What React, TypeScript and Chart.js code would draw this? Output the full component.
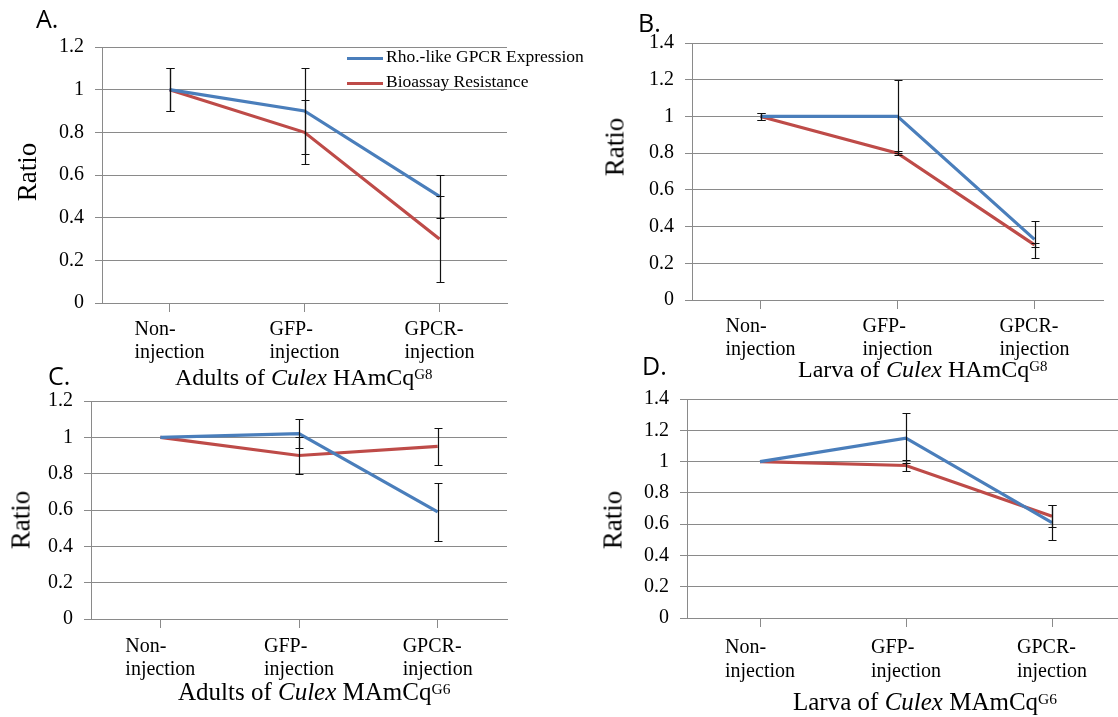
import React, { useEffect, useRef } from "react";
import { Chart, registerables } from "chart.js";

Chart.register(...registerables);

// ---------- data ----------
const categories: string[][] = [
  ["Non-", "injection"],
  ["GFP-", "injection"],
  ["GPCR-", "injection"],
];
const seriesNames = ["Rho.-like GPCR Expression", "Bioassay Resistance"];

// A. Adults of Culex HAmCq G8
const aExpression = [1.0, 0.9, 0.5];
const aExpressionErr = [0.1, 0.2, 0.1];
const aResistance = [1.0, 0.8, 0.3];
const aResistanceErr = [0.1, 0.15, 0.2];

// B. Larva of Culex HAmCq G8
const bExpression = [1.0, 1.0, 0.33];
const bExpressionErr = [0.02, 0.2, 0.1];
const bResistance = [1.0, 0.8, 0.3];
const bResistanceErr = [0.02, 0.01, 0.01];

// C. Adults of Culex MAmCq G6
const cExpression = [1.0, 1.02, 0.59];
const cExpressionErr = [0, 0.08, 0.16];
const cResistance = [1.0, 0.9, 0.95];
const cResistanceErr = [0, 0.1, 0.1];

// D. Larva of Culex MAmCq G6
const dExpression = [1.0, 1.15, 0.61];
const dExpressionErr = [0, 0.16, 0.11];
const dResistance = [1.0, 0.975, 0.65];
const dResistanceErr = [0, 0.035, 0.07];

const yMaxAC = 1.2;
const yMaxBD = 1.4;
const yStep = 0.2;
const yAxisTitle = "Ratio";

// ---------- style ----------
const BLUE = "#4A7EBB";
const RED = "#BE4B48";
const GRID = "#8a8a8a";
const SERIF = '"Liberation Serif", "Times New Roman", serif';
const CANVAS_SERIF = '"Liberation Serif", serif';
const SANS = '"Open Sans", "Noto Sans", sans-serif';

const errorBarPlugin = {
  id: "errorBars",
  afterDatasetsDraw(chart: any, _args: any, opts: any) {
    const errs: number[][] = opts.errors || [];
    const ctx = chart.ctx;
    const ys = chart.scales.y;
    chart.data.datasets.forEach((ds: any, i: number) => {
      const e = errs[i];
      if (!e) return;
      const meta = chart.getDatasetMeta(i);
      meta.data.forEach((pt: any, j: number) => {
        const err = e[j];
        if (!err) return;
        const v = ds.data[j];
        const yt = Math.round(ys.getPixelForValue(v + err)) + 0.5;
        const yb = Math.round(ys.getPixelForValue(v - err)) + 0.5;
        const x = Math.round(pt.x) + 0.5;
        ctx.save();
        ctx.strokeStyle = "#111";
        ctx.lineWidth = 1.2;
        ctx.beginPath();
        ctx.moveTo(x, yt);
        ctx.lineTo(x, yb);
        ctx.moveTo(x - 4, yt);
        ctx.lineTo(x + 4, yt);
        ctx.moveTo(x - 4, yb);
        ctx.lineTo(x + 4, yb);
        ctx.stroke();
        ctx.restore();
      });
    });
  },
};

const xLabelPlugin = {
  id: "xLabels",
  afterDraw(chart: any, _args: any, opts: any) {
    const ctx = chart.ctx;
    const xs = chart.scales.x;
    const labels: string[][] = opts.labels || [];
    ctx.save();
    ctx.font = `20px ${CANVAS_SERIF}`;
    ctx.fillStyle = "#000";
    ctx.textAlign = "left";
    ctx.textBaseline = "alphabetic";
    labels.forEach((lines, i) => {
      const cx = xs.getPixelForValue(i);
      const w = Math.max(...lines.map((l) => ctx.measureText(l).width));
      lines.forEach((l, k) => {
        ctx.fillText(l, cx - w / 2, chart.chartArea.bottom + opts.firstLine + k * opts.lineGap);
      });
    });
    ctx.restore();
  },
};

type PanelProps = {
  canvas: { left: number; top: number; width: number; height: number };
  plot: { left: number; top: number; right: number; bottom: number };
  yMax: number;
  expression: number[];
  expressionErr: number[];
  resistance: number[];
  resistanceErr: number[];
  firstLine: number;
  lineGap: number;
};

function Panel(p: PanelProps) {
  const ref = useRef<HTMLCanvasElement | null>(null);
  useEffect(() => {
    if (!ref.current) return;
    const yW = p.plot.left - p.canvas.left;
    const xH = p.canvas.top + p.canvas.height - p.plot.bottom;
    const chart = new Chart(ref.current, {
      type: "line",
      data: {
        labels: categories.map((c) => c.join(" ")),
        datasets: [
          {
            label: seriesNames[0],
            data: p.expression,
            borderColor: BLUE,
            backgroundColor: BLUE,
            borderWidth: 3.2,
            pointRadius: 0,
            tension: 0,
            fill: false,
          },
          {
            label: seriesNames[1],
            data: p.resistance,
            borderColor: RED,
            backgroundColor: RED,
            borderWidth: 3.2,
            pointRadius: 0,
            tension: 0,
            fill: false,
          },
        ],
      },
      options: {
        animation: false,
        responsive: false,
        events: [],
        layout: {
          padding: {
            left: 0,
            top: p.plot.top - p.canvas.top,
            right: p.canvas.left + p.canvas.width - p.plot.right,
            bottom: 0,
          },
        },
        plugins: {
          legend: { display: false },
          tooltip: { enabled: false },
          title: { display: false },
          errorBars: { errors: [p.expressionErr, p.resistanceErr] },
          xLabels: { labels: categories, firstLine: p.firstLine, lineGap: p.lineGap },
        } as any,
        scales: {
          x: {
            type: "category",
            offset: true,
            grid: {
              offset: false,
              drawOnChartArea: false,
              drawTicks: true,
              tickLength: 9,
              color: GRID,
              lineWidth: 1,
            },
            border: { color: GRID, width: 1 },
            ticks: { callback: () => "", padding: 0, autoSkip: false, maxRotation: 0 },
            afterFit: (s: any) => {
              s.height = xH;
            },
          },
          y: {
            min: 0,
            max: p.yMax,
            grid: { color: GRID, lineWidth: 1, tickLength: 7, drawTicks: true },
            border: { color: GRID, width: 1 },
            ticks: {
              stepSize: yStep,
              padding: 11,
              color: "#000",
              font: { family: CANVAS_SERIF, size: 20 },
              callback: (v: any) => String(+Number(v).toFixed(1)),
            },
            afterFit: (s: any) => {
              s.width = yW;
            },
          },
        },
      },
      plugins: [errorBarPlugin, xLabelPlugin],
    } as any);
    let alive = true;
    const redraw = () => {
      if (alive) chart.update();
    };
    const fontSet = (document as any).fonts;
    if (fontSet) {
      fontSet.load(`20px "Liberation Serif"`).then(redraw, () => {});
      fontSet.ready.then(redraw);
    }
    requestAnimationFrame(() => requestAnimationFrame(redraw));
    const timers = [50, 150, 300, 600, 1000, 2000].map((ms) => setTimeout(redraw, ms));
    return () => {
      alive = false;
      timers.forEach((t) => clearTimeout(t));
      chart.destroy();
    };
  }, []);
  return (
    <canvas
      ref={ref}
      width={p.canvas.width}
      height={p.canvas.height}
      style={{
        position: "absolute",
        left: p.canvas.left,
        top: p.canvas.top,
        width: p.canvas.width,
        height: p.canvas.height,
        display: "block",
      }}
    />
  );
}

function Letter({ text, left, top }: { text: string; left: number; top: number }) {
  return (
    <div
      style={{
        position: "absolute",
        left,
        top,
        fontFamily: SANS,
        fontSize: 25,
        lineHeight: "25px",
        color: "#000",
        whiteSpace: "nowrap",
      }}
    >
      {text}
    </div>
  );
}

function Title({
  pre,
  strain,
  gen,
  left,
  top,
  size,
}: {
  pre: string;
  strain: string;
  gen: string;
  left: number;
  top: number;
  size: number;
}) {
  return (
    <div
      style={{
        position: "absolute",
        left,
        top,
        fontFamily: SERIF,
        fontSize: size,
        lineHeight: `${size}px`,
        color: "#000",
        whiteSpace: "nowrap",
      }}
    >
      {pre} <i>Culex</i> {strain}
      <span style={{ fontSize: "0.62em", position: "relative", top: "-0.42em" }}>{gen}</span>
    </div>
  );
}

function Ratio({ cx, cy }: { cx: number; cy: number }) {
  return (
    <div
      style={{
        position: "absolute",
        left: cx,
        top: cy,
        transform: "translate(-50%, -50%) rotate(-90deg)",
        fontFamily: SERIF,
        fontSize: 27,
        lineHeight: "27px",
        color: "#000",
        whiteSpace: "nowrap",
      }}
    >
      {yAxisTitle}
    </div>
  );
}

function LegendRow({ color, text, left, y }: { color: string; text: string; left: number; y: number }) {
  return (
    <>
      <div
        style={{
          position: "absolute",
          left,
          top: y - 1.5,
          width: 36,
          height: 3,
          background: color,
        }}
      />
      <div
        style={{
          position: "absolute",
          left: left + 39,
          top: y - 10,
          fontFamily: SERIF,
          fontSize: 17.5,
          lineHeight: "17.5px",
          color: "#000",
          whiteSpace: "nowrap",
        }}
      >
        {text}
      </div>
    </>
  );
}

export default function App() {
  return (
    <div
      style={{
        position: "fixed",
        left: 0,
        top: 0,
        width: 1118,
        height: 717,
        overflow: "hidden",
        background: "#fff",
      }}
    >
      <Panel
        canvas={{ left: 0, top: 20, width: 560, height: 350 }}
        plot={{ left: 102, top: 47, right: 507, bottom: 303 }}
        yMax={yMaxAC}
        expression={aExpression}
        expressionErr={aExpressionErr}
        resistance={aResistance}
        resistanceErr={aResistanceErr}
        firstLine={32}
        lineGap={23}
      />
      <Panel
        canvas={{ left: 560, top: 18, width: 558, height: 347 }}
        plot={{ left: 692, top: 43, right: 1103, bottom: 300 }}
        yMax={yMaxBD}
        expression={bExpression}
        expressionErr={bExpressionErr}
        resistance={bResistance}
        resistanceErr={bResistanceErr}
        firstLine={32}
        lineGap={23}
      />
      <Panel
        canvas={{ left: 0, top: 378, width: 560, height: 330 }}
        plot={{ left: 91, top: 395, right: 507, bottom: 619 }}
        yMax={yMaxAC}
        expression={cExpression}
        expressionErr={cExpressionErr}
        resistance={cResistance}
        resistanceErr={cResistanceErr}
        firstLine={33}
        lineGap={23}
      />
      <Panel
        canvas={{ left: 560, top: 376, width: 570, height: 334 }}
        plot={{ left: 687, top: 392, right: 1125, bottom: 618 }}
        yMax={yMaxBD}
        expression={dExpression}
        expressionErr={dExpressionErr}
        resistance={dResistance}
        resistanceErr={dResistanceErr}
        firstLine={35}
        lineGap={24}
      />

      <LegendRow color={BLUE} text={seriesNames[0]} left={347} y={58} />
      <LegendRow color={RED} text={seriesNames[1]} left={347} y={83} />

      <Letter text="A." left={36} top={6} />
      <Letter text="B." left={638} top={10} />
      <Letter text="C." left={48} top={363} />
      <Letter text="D." left={642} top={353} />

      <Title pre="Adults of" strain="HAmCq" gen="G8" left={175} top={365} size={24} />
      <Title pre="Larva of" strain="HAmCq" gen="G8" left={798} top={357} size={24} />
      <Title pre="Adults of" strain="MAmCq" gen="G6" left={178} top={679} size={25} />
      <Title pre="Larva of" strain="MAmCq" gen="G6" left={793} top={689} size={25} />

      <Ratio cx={27} cy={172} />
      <Ratio cx={615} cy={147} />
      <Ratio cx={21} cy={520} />
      <Ratio cx={613} cy={520} />
    </div>
  );
}
